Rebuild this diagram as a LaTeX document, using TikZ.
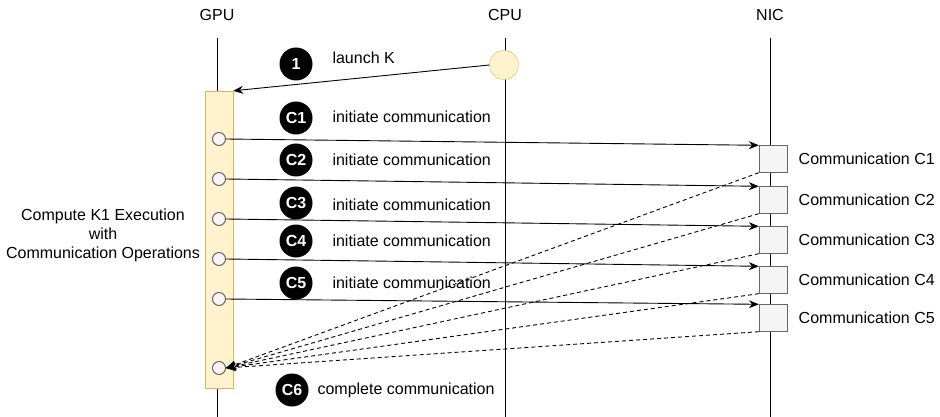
\documentclass[tikz,border=0pt]{standalone}
\usepackage{fontspec}
\setmainfont{Liberation Sans}
\usetikzlibrary{arrows.meta}
\definecolor{barfill}{HTML}{FFF2CC}
\definecolor{barline}{HTML}{D6B656}
\definecolor{boxfill}{HTML}{F5F5F5}
\definecolor{boxline}{HTML}{666666}

\begin{document}
\begin{tikzpicture}[x=1pt, y=-1pt, font=\fontsize{16}{19}\selectfont,
    lifeline/.style={line width=0.9pt},
    callarrow/.style={-{Stealth[length=10pt,width=8pt]}, line width=0.9pt},
    backarrow/.style={callarrow, dash pattern=on 4pt off 3pt},
    stepmark/.style={circle, fill=black, text=white, minimum size=33pt, inner sep=0pt,
      font=\bfseries\fontsize{16}{16}\selectfont},
    port/.style={circle, draw=boxline, fill=boxfill, line width=1pt, minimum size=13pt, inner sep=0pt},
    commbox/.style={rectangle, draw=boxline, fill=boxfill, minimum width=28pt, minimum height=27pt, inner sep=0pt},
    commlabel/.style={anchor=west, xshift=8pt}]
      \useasboundingbox (0,0) rectangle (940,417);

      % lifelines
      \node (gpu) at (217,15) {GPU};
      \node (cpu) at (505,15) {CPU};
      \node (nic) at (770,15) {NIC};
      \coordinate (gputop) at (217,38);
      \coordinate (gpuend) at (217,417);
      \coordinate (cputop) at (505,38);
      \coordinate (cpuend) at (505,417);
      \coordinate (nictop) at (770,38);
      \coordinate (nicend) at (770,417);
      \draw[lifeline] (gputop) -- (gpuend);
      \draw[lifeline] (cputop) -- (cpuend);
      \draw[lifeline] (nictop) -- (nicend);

      % GPU activation and CPU call
      \node (kbar) [rectangle, draw=barline, fill=barfill, minimum width=28pt, minimum height=297pt, inner sep=0pt] at (219,239.5) {};
      \node (launch) [circle, draw=barline, fill=barfill, minimum size=29pt, inner sep=0pt] at (504,65) {};
      \node (kexec) [align=center] at (103,235) {Compute K1 Execution\\with\\Communication Operations};

      \node (g1) [port] at (219,139) {};
      \node (g2) [port] at (219,179) {};
      \node (g3) [port] at (219,219) {};
      \node (g4) [port] at (219,259) {};
      \node (g5) [port] at (219,299) {};
      \node (g6) [port] at (219,368) {};

      \node (n1) [commbox] at (773,159) {};
      \node (n2) [commbox] at (773,200) {};
      \node (n3) [commbox] at (773,240) {};
      \node (n4) [commbox] at (773,280) {};
      \node (n5) [commbox] at (773,318) {};
      \node [commlabel] at (n1.east) {Communication C1};
      \node [commlabel] at (n2.east) {Communication C2};
      \node [commlabel] at (n3.east) {Communication C3};
      \node [commlabel] at (n4.east) {Communication C4};
      \node [commlabel] at (n5.east) {Communication C5};

      % step markers
      \node (s1) [stepmark] at (296,64) {1};
      \node (s2) [stepmark] at (296,118) {C1};
      \node (s3) [stepmark] at (296,160) {C2};
      \node (s4) [stepmark] at (296,203) {C3};
      \node (s5) [stepmark] at (296,241) {C4};
      \node (s6) [stepmark] at (296,283) {C5};
      \node (s7) [stepmark] at (292,390) {C6};
      \node [anchor=west] at (329,58) {launch K};
      \node [anchor=west] at (329,117) {initiate communication};
      \node [anchor=west] at (329,160) {initiate communication};
      \node [anchor=west] at (329,205) {initiate communication};
      \node [anchor=west] at (329,241) {initiate communication};
      \node [anchor=west] at (329,283) {initiate communication};
      \node [anchor=west] at (314,390) {complete communication};

      % calls
      \draw[callarrow] (launch.west) -- (kbar.north east);
      \draw[callarrow] (g1.east) -- (n1.north west);
      \draw[callarrow] (g2.east) -- (n2.north west);
      \draw[callarrow] (g3.east) -- (n3.north west);
      \draw[callarrow] (g4.east) -- (n4.north west);
      \draw[callarrow] (g5.east) -- (n5.north west);

      % completions
      \draw[backarrow] (n1.south west) -- (g6.east);
      \draw[backarrow] (n2.south west) -- (g6.east);
      \draw[backarrow] (n3.south west) -- (g6.east);
      \draw[backarrow] (n4.south west) -- (g6.east);
      \draw[backarrow] (n5.south west) -- (g6.east);
\end{tikzpicture}
\end{document}
